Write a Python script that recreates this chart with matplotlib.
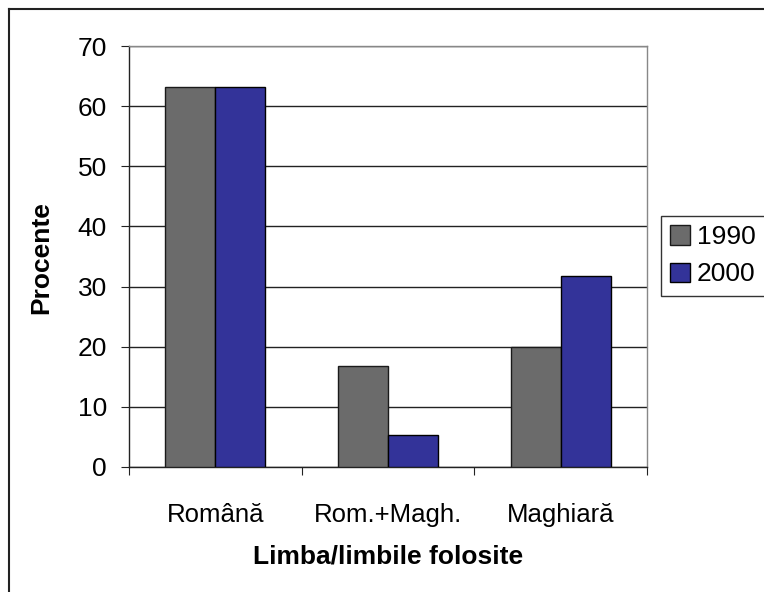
import matplotlib
matplotlib.use("Agg")
import matplotlib.pyplot as plt
import numpy as np
from matplotlib.lines import Line2D

categories = ["Română", "Rom.+Magh.", "Maghiară"]
series_names = ["1990", "2000"]
values_1990 = [63.2, 16.8, 20.0]
values_2000 = [63.2, 5.3, 31.7]
y_ticks = [0, 10, 20, 30, 40, 50, 60, 70]

plt.rcParams['font.family'] = ['Liberation Sans', 'DejaVu Sans']

fig = plt.figure(figsize=(7.64, 5.92), dpi=100)
W, H = 764, 592
ax = fig.add_axes([129 / W, (H - 467) / H, (647 - 129) / W, (467 - 46) / H])

x = np.arange(len(categories)) + 0.5
bw = 0.29
ax.bar(x - bw / 2, values_1990, bw, color="#6b6b6b", edgecolor="#1a1a1a", linewidth=1.0, label=series_names[0], zorder=3)
ax.bar(x + bw / 2, values_2000, bw, color="#333399", edgecolor="#000000", linewidth=1.0, label=series_names[1], zorder=3)

ax.set_xlim(0, 3)
ax.set_ylim(0, 70)
ax.set_yticks(y_ticks)
ax.set_yticklabels([str(t) for t in y_ticks], fontsize=19)
ax.yaxis.grid(True, color="#222222", linewidth=1.0, zorder=0)
ax.set_axisbelow(True)

ax.set_xticks([0, 1, 2, 3])
ax.set_xticklabels([])
ax.set_xticks(x, minor=True)
ax.set_xticklabels(categories, minor=True, fontsize=18.5)
ax.tick_params(axis='x', which='minor', length=0, pad=26)
ax.tick_params(axis='x', which='major', length=6, direction='out', color='#222222')
ax.tick_params(axis='y', length=6, direction='out', color='#222222', pad=10)

for s in ["top", "right"]:
    ax.spines[s].set_color("#888888")
    ax.spines[s].set_linewidth(1.0)
for s in ["left", "bottom"]:
    ax.spines[s].set_color("#222222")
    ax.spines[s].set_linewidth(1.0)

fig.text(388 / W, 1 - 556 / H, "Limba/limbile folosite", fontsize=19, fontweight="bold",
         ha="center", va="center")
fig.text(41 / W, 1 - 258 / H, "Procente", fontsize=19, fontweight="bold",
         ha="center", va="center", rotation=90)

leg = fig.legend(loc="upper left", bbox_to_anchor=(661 / W, 1 - 216 / H), fontsize=19,
                 frameon=True, fancybox=False, edgecolor="#000000", handlelength=0.75,
                 handleheight=0.75, handletextpad=0.25, borderpad=0.35, labelspacing=0.5,
                 borderaxespad=0)
leg.get_frame().set_linewidth(1.0)

# outer chart border (left and top visible)
fig.add_artist(Line2D([9 / W, 9 / W], [0, 1 - 9 / H], color="#222222", linewidth=1.5, transform=fig.transFigure))
fig.add_artist(Line2D([9 / W, 1], [1 - 9 / H, 1 - 9 / H], color="#222222", linewidth=1.5, transform=fig.transFigure))

fig.savefig("out.png", dpi=100)
